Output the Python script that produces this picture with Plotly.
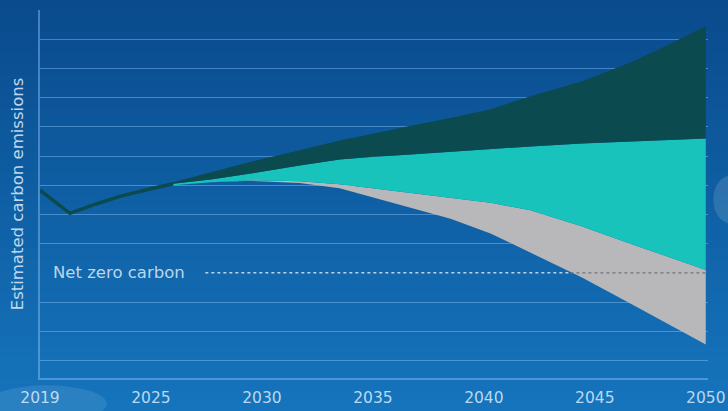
import plotly.graph_objects as go

# ---------------- data ----------------
TICK_POS = [2020, 2025, 2030, 2035, 2040, 2045, 2050]
TICK_LABELS = ["2019", "2025", "2030", "2035", "2040", "2045", "2050"]

hist_years = [2020.0, 2021.35, 2022.5, 2023.6, 2025.0, 2026.0]
hist_values = [5.83, 5.04, 5.35, 5.62, 5.88, 6.05]

band_years = [2026.0, 2027.7, 2029.5, 2031.7, 2033.5, 2034.9, 2036.7,
              2038.5, 2040.3, 2042.1, 2044.4, 2046.6, 2048.3, 2050.0]
high_upper = [6.1, 6.45, 6.8, 7.2, 7.53, 7.75, 8.04,
              8.3, 8.6, 9.05, 9.55, 10.2, 10.8, 11.45]
mid_upper = [6.05, 6.2, 6.4, 6.68, 6.88, 6.97, 7.05,
             7.15, 7.25, 7.33, 7.43, 7.5, 7.55, 7.6]
low_upper = [6.0, 6.1, 6.17, 6.14, 6.03, 5.9, 5.72,
             5.55, 5.4, 5.14, 4.6, 4.0, 3.55, 3.1]
low_lower = [6.0, 6.1, 6.15, 6.08, 5.9, 5.6, 5.24,
             4.85, 4.35, 3.7, 2.85, 1.95, 1.25, 0.55]

net_zero_value = 3
net_zero_start = 2027.45
net_zero_cross = 2043.9
net_zero_end = 2050.0

y_grid = [0, 1, 2, 4, 5, 6, 7, 8, 9, 10, 11, 12]

# ---------------- styles ----------------
DARK = "#0b4a4f"
TEAL = "#17c3bb"
GREY = "#b8b7ba"
GRID = "rgba(140,195,250,0.45)"
TXT = "rgba(220,235,250,0.85)"
FONT = "'DejaVu Sans', sans-serif"

fig = go.Figure()

# gray band
fig.add_trace(go.Scatter(x=band_years, y=low_lower, mode="lines",
                         line=dict(width=0, color=GREY), showlegend=False,
                         hoverinfo="skip"))
fig.add_trace(go.Scatter(x=band_years, y=low_upper, mode="lines", fill="tonexty",
                         fillcolor=GREY, line=dict(width=0, color=GREY),
                         showlegend=False, hoverinfo="skip"))
# teal band
fig.add_trace(go.Scatter(x=band_years, y=mid_upper, mode="lines", fill="tonexty",
                         fillcolor=TEAL, line=dict(width=0, color=TEAL),
                         showlegend=False, hoverinfo="skip"))
# dark band
fig.add_trace(go.Scatter(x=band_years, y=high_upper, mode="lines", fill="tonexty",
                         fillcolor=DARK, line=dict(width=0, color=DARK),
                         showlegend=False, hoverinfo="skip"))
# historic line
fig.add_trace(go.Scatter(x=hist_years, y=hist_values, mode="lines",
                         line=dict(width=3.5, color=DARK), showlegend=False,
                         hoverinfo="skip"))
# net zero dashed line
fig.add_trace(go.Scatter(x=[net_zero_start, net_zero_cross],
                         y=[net_zero_value, net_zero_value], mode="lines",
                         line=dict(width=1.5, color="rgba(215,232,250,0.85)", dash="3px,3px"),
                         showlegend=False, hoverinfo="skip"))
fig.add_trace(go.Scatter(x=[net_zero_cross, net_zero_end],
                         y=[net_zero_value, net_zero_value], mode="lines",
                         line=dict(width=1.2, color="#6f7480", dash="3px,3px"),
                         showlegend=False, hoverinfo="skip"))

# ---------------- background gradient (sky) ----------------
shapes = []
N = 40
top_c = (10, 74, 140)
bot_c = (22, 118, 190)
y_lo, y_hi = -0.12, 1.06
for i in range(N):
    t = i / (N - 1)
    r = int(bot_c[0] + (top_c[0] - bot_c[0]) * t)
    g = int(bot_c[1] + (top_c[1] - bot_c[1]) * t)
    b = int(bot_c[2] + (top_c[2] - bot_c[2]) * t)
    y0 = y_lo + (y_hi - y_lo) * i / N
    y1 = y_lo + (y_hi - y_lo) * (i + 1) / N + 0.002
    shapes.append(dict(type="rect", xref="paper", yref="paper", x0=-0.1, x1=1.1,
                       y0=y0, y1=y1, fillcolor=f"rgb({r},{g},{b})",
                       line=dict(width=0), layer="below"))
# soft clouds
clouds = [
    (-0.08, 0.10, -0.12, -0.02, 0.10),
    (1.008, 1.06, 0.42, 0.55, 0.14),
]
for x0, x1, y0, y1, a in clouds:
    shapes.append(dict(type="circle", xref="paper", yref="paper", x0=x0, x1=x1,
                       y0=y0, y1=y1, fillcolor=f"rgba(235,242,250,{a})",
                       line=dict(width=0), layer="below"))

fig.update_layout(
    width=728, height=411,
    margin=dict(l=40, r=20, t=10, b=33),
    paper_bgcolor="rgb(14,90,160)",
    plot_bgcolor="rgba(0,0,0,0)",
    shapes=shapes,
    font=dict(family=FONT, color=TXT),
    xaxis=dict(range=[2020, 2050.1], tickvals=TICK_POS, ticktext=TICK_LABELS,
               showgrid=False, zeroline=False, showline=True, linecolor=GRID,
               linewidth=1.5, ticks="outside", ticklen=5, automargin=False,
               tickcolor="rgba(0,0,0,0)", tickfont=dict(size=15.5, color=TXT),
               fixedrange=True),
    yaxis=dict(range=[-0.6, 12.0], tickvals=y_grid, showticklabels=False,
               showgrid=True, gridcolor=GRID, gridwidth=1.3, zeroline=False,
               showline=True, linecolor=GRID, linewidth=1.5, automargin=False,
               title=dict(text="Estimated carbon emissions",
                          font=dict(size=16.5, color=TXT), standoff=10),
               fixedrange=True),
    annotations=[dict(x=2020.5, y=net_zero_value, xref="x", yref="y",
                      text="Net zero carbon", showarrow=False, xanchor="left",
                      yanchor="middle", font=dict(size=16.5, color=TXT))],
)

fig.write_html("out.html", config={"displayModeBar": False},
               post_script="document.body.style.margin='0';document.body.style.padding='0';")
